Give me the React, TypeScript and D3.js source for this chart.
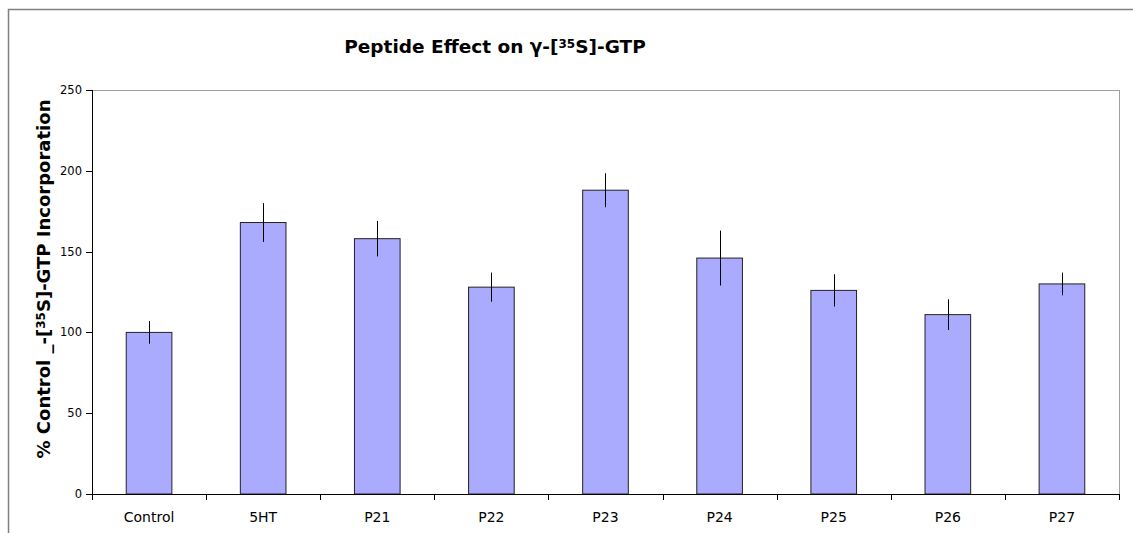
import React from "react";
import * as d3 from "d3";

const categories = ["Control", "5HT", "P21", "P22", "P23", "P24", "P25", "P26", "P27"];
const values = [100, 168, 158, 128, 188, 146, 126, 111, 130];
const errors = [7, 12, 11, 9, 10.5, 17, 10, 9.5, 7];
const yTicks = [0, 50, 100, 150, 200, 250];

const W = 1133;
const H = 533;
const plot = { left: 92, right: 1119, top: 90, bottom: 494 };
const FONT = "'DejaVu Sans', Verdana, sans-serif";

export default function App() {
  const x = d3
    .scaleBand<string>()
    .domain(categories)
    .range([plot.left, plot.right])
    .paddingInner(0.6)
    .paddingOuter(0.3);
  const band = d3.scaleBand<string>().domain(categories).range([plot.left, plot.right]);
  const y = d3.scaleLinear().domain([0, 250]).range([plot.bottom, plot.top]);

  const tickXs = categories.map((c) => band(c) as number).concat([plot.right]);

  return (
    <svg
      width={W}
      height={H}
      style={{ position: "absolute", left: 0, top: 0, background: "#fff" }}
      fontFamily={FONT}
    >
      {/* outer chart frame */}
      <rect x={8.5} y={9.5} width={W + 20} height={H + 20} fill="#fff" stroke="#808080" strokeWidth={1.5} />

      {/* title */}
      <text x={495} y={53} textAnchor="middle" fontSize={18.5} fontWeight="bold" fill="#000">
        Peptide Effect on γ-[
        <tspan baselineShift="40%" fontSize={12}>35</tspan>
        S]-GTP
      </text>

      {/* plot area border (top/right gray) */}
      <line x1={plot.left} x2={plot.right} y1={plot.top + 0.5} y2={plot.top + 0.5} stroke="#a0a0a0" />
      <line x1={plot.right + 0.5} x2={plot.right + 0.5} y1={plot.top} y2={plot.bottom} stroke="#a0a0a0" />

      {/* bars */}
      {categories.map((c, i) => (
        <rect
          key={c}
          x={x(c)}
          y={y(values[i])}
          width={x.bandwidth()}
          height={plot.bottom - y(values[i])}
          fill="#aaaaff"
          stroke="#222"
          strokeWidth={1}
        />
      ))}

      {/* error bars */}
      {categories.map((c, i) => {
        const cx = Math.round((x(c) as number) + x.bandwidth() / 2) + 0.5;
        return (
          <line
            key={c + "e"}
            x1={cx}
            x2={cx}
            y1={y(values[i] + errors[i])}
            y2={y(values[i] - errors[i])}
            stroke="#000"
            strokeWidth={1}
          />
        );
      })}

      {/* y axis */}
      <line x1={plot.left + 0.5} x2={plot.left + 0.5} y1={plot.top} y2={plot.bottom} stroke="#000" />
      {yTicks.map((t) => (
        <g key={t}>
          <line x1={plot.left - 6} x2={plot.left} y1={Math.round(y(t)) + 0.5} y2={Math.round(y(t)) + 0.5} stroke="#000" />
          <text x={plot.left - 10} y={y(t)} dy="0.35em" textAnchor="end" fontSize={11.5} fill="#000">
            {t}
          </text>
        </g>
      ))}

      {/* x axis */}
      <line x1={plot.left} x2={plot.right + 1} y1={plot.bottom + 0.5} y2={plot.bottom + 0.5} stroke="#000" />
      {tickXs.map((tx, i) => (
        <line key={i} x1={Math.round(tx) + 0.5} x2={Math.round(tx) + 0.5} y1={plot.bottom} y2={plot.bottom + 6} stroke="#000" />
      ))}
      {categories.map((c) => (
        <text
          key={c + "l"}
          x={(band(c) as number) + band.bandwidth() / 2}
          y={522}
          textAnchor="middle"
          fontSize={14}
          fill="#000"
        >
          {c}
        </text>
      ))}

      {/* y axis title */}
      <text
        transform={`translate(50, 279) rotate(-90)`}
        textAnchor="middle"
        fontSize={18}
        fontWeight="bold"
        fill="#000"
      >
        % Control _-[
        <tspan baselineShift="40%" fontSize={12}>35</tspan>
        S]-GTP Incorporation
      </text>
    </svg>
  );
}
